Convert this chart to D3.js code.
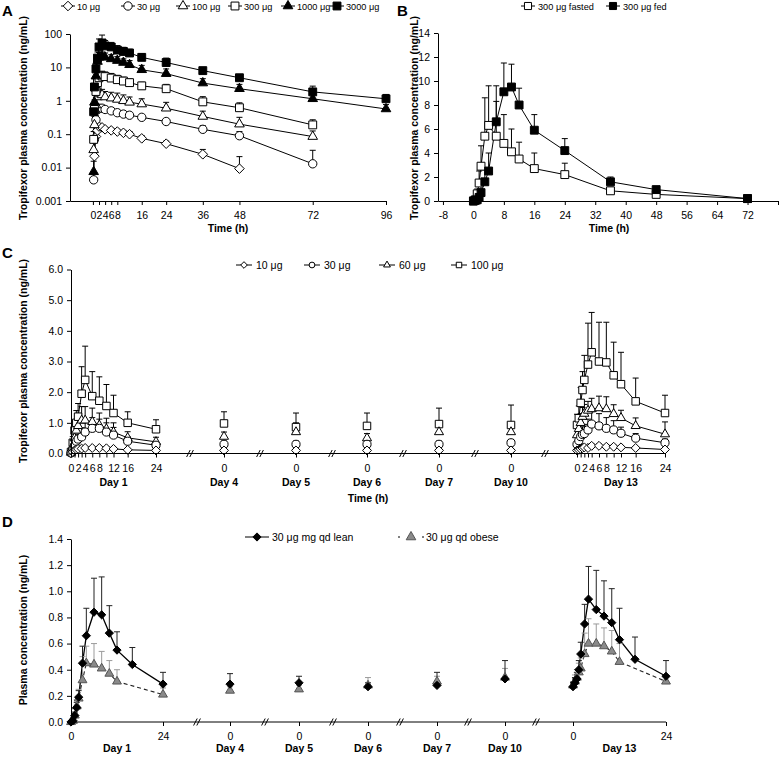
<!DOCTYPE html>
<html><head><meta charset="utf-8">
<script src="https://cdn.jsdelivr.net/npm/d3@7"></script>
<style>
body{margin:0;background:#fff}
svg{display:block}
text{font-family:"Liberation Sans",Arial,Helvetica,sans-serif;fill:#000}
</style>
</head><body>
<svg id="chart" width="780" height="758"></svg>
<script>
// ================= DATA =================
// ---- Panel A (single ascending dose, log scale) ----
const aTimes = [0.25,0.5,1,1.5,2,3,4,6,8,10,12,16,24,36,48,72,96];
const aDoses = ["10 μg","30 μg","100 μg","300 μg","1000 μg","3000 μg"];
const a10    = [null,0.022,0.085,0.13,0.17,0.16,0.14,0.13,0.12,0.11,0.1,0.075,0.052,0.025,0.0093,null,null];
const a10Err = [null,0.01,0.03,0.03,0.03,0.02,0.02,0.02,0.02,0.02,0.02,0.015,0.01,0.01,0.012,null,null];
const a30    = [0.0043,0.07,0.27,0.54,0.6,0.6,0.55,0.5,0.44,0.4,0.37,0.32,0.24,0.14,0.09,0.013,null];
const a30Err = [0.003,0.05,0.1,0.15,0.15,0.12,0.1,0.1,0.08,0.07,0.07,0.06,0.05,0.04,0.03,0.02,null];
const a100    = [0.034,0.19,0.75,1.3,1.6,1.5,1.3,1.2,1.1,1.0,0.9,0.8,0.6,0.34,0.2,0.085,null];
const a100Err = [0.03,0.15,0.5,0.7,0.8,0.7,0.6,0.6,0.6,0.5,0.4,0.35,0.3,0.15,0.12,0.04,null];
const a300    = [0.07,0.55,1.9,3.5,4.9,5.5,5.3,4.8,4.3,3.9,3.5,2.8,2.3,0.93,0.62,0.19,null];
const a300Err = [0.05,0.5,1.5,2,2.3,2.2,2,1.8,1.5,1.2,1,0.8,0.8,0.4,0.25,0.08,null];
const a1000    = [0.0075,0.9,5.5,15,20,21,20,18,16,14,12,8.5,6.5,3.4,2.3,1.15,0.57];
const a1000Err = [0.008,1,4,8,8,8,7,6,5,4,4,3,2.5,1.2,0.8,0.6,0.2];
const a3000    = [0.47,2.6,9,19,41,54,44,41,33,30,27,20,14,8,4.9,1.85,1.15];
const a3000Err = [0.3,2,5,10,30,39,20,15,12,10,8,6,5,1.5,1.2,0.9,0.4];
const aXTicks = [0,2,4,6,8,16,24,36,48,72,96];
const aYTicks = [0.001,0.01,0.1,1,10,100];
const aYTickLabels = ["0.001","0.01","0.1","1","10","100"];

// ---- Panel B (food effect) ----
const bTimes = [0,0.5,1,1.5,2,3,4,6,8,10,12,16,24,36,48,72];
const bNames = ["300 μg fasted","300 μg fed"];
const bFasted    = [0,0.1,0.6,1.5,2.9,5.4,6.3,5.4,4.8,4.1,3.5,2.7,2.2,0.85,0.55,0.2];
const bFastedErr = [0,0.1,0.4,1.0,1.7,3.2,3.3,2.9,2.4,1.9,1.4,1.3,0.95,0.3,0.2,0.05];
const bFed    = [0,0.05,0.1,0.3,0.7,1.6,2.5,6.6,9.1,9.5,8.0,5.9,4.2,1.6,0.95,0.2];
const bFedErr = [0,0.05,0.1,0.3,0.8,1.0,1.5,3.0,2.4,1.9,1.4,1.3,1.0,0.4,0.15,0.05];
const bXTicks = [-8,0,8,16,24,32,40,48,56,64,72,80];
const bXTickLabels = ["-8","0","8","16","24","32","40","48","56","64","72",""];
const bYTicks = [0,2,4,6,8,10,12,14];

// ---- Panel C (multiple dose) ----
const cHours = [0,0.5,1,1.5,2,3,4,6,8,10,12,16,24];
const cDayLabels = ["Day 1","Day 4","Day 5","Day 6","Day 7","Day 10","Day 13"];
const cDoses = ["10 μg","30 μg","60 μg","100 μg"];
const c10Day1     = [0.01,0.05,0.1,0.13,0.15,0.16,0.18,0.18,0.18,0.17,0.15,0.12,0.1];
const c10Day1Err  = [0,0.02,0.03,0.03,0.04,0.04,0.05,0.05,0.05,0.05,0.04,0.03,0.03];
const c10Trough   = [0.1,0.1,0.1,0.1,0.1];
const c10TroughErr= [0.03,0.03,0.03,0.03,0.03];
const c10Day13    = [0.1,0.12,0.15,0.18,0.2,0.18,0.25,0.25,0.22,0.22,0.2,0.18,0.13];
const c10Day13Err = [0.03,0.03,0.04,0.05,0.05,0.05,0.06,0.06,0.05,0.05,0.05,0.04,0.03];
const c30Day1     = [0.02,0.1,0.25,0.4,0.47,0.54,0.7,0.82,0.82,0.7,0.6,0.4,0.27];
const c30Day1Err  = [0.01,0.05,0.1,0.15,0.2,0.3,0.3,0.35,0.3,0.3,0.25,0.15,0.1];
const c30Trough   = [0.3,0.3,0.3,0.3,0.35];
const c30TroughErr= [0.1,0.1,0.1,0.1,0.1];
const c30Day13    = [0.3,0.42,0.55,0.62,0.65,0.77,0.96,0.9,0.82,0.77,0.66,0.5,0.35];
const c30Day13Err = [0.1,0.15,0.2,0.25,0.3,0.35,0.4,0.4,0.35,0.3,0.2,0.15,0.12];
const c60Day1     = [0.03,0.25,0.5,0.75,0.9,1.08,1.08,1.03,0.92,0.8,0.7,0.51,0.38];
const c60Day1Err  = [0.01,0.1,0.2,0.25,0.3,0.45,0.45,0.45,0.4,0.35,0.3,0.2,0.15];
const c60Trough   = [0.55,0.7,0.5,0.7,0.7];
const c60TroughErr= [0.15,0.3,0.15,0.2,0.2];
const c60Day13    = [0.6,0.8,1.0,1.2,1.3,1.4,1.45,1.48,1.45,1.29,1.16,0.9,0.63];
const c60Day13Err = [0.25,0.3,0.3,0.3,0.3,0.3,0.35,0.39,0.4,0.3,0.25,0.26,0.4];
const c100Day1     = [0.05,0.35,0.75,1.0,1.2,1.95,2.4,1.87,1.72,1.55,1.32,1.0,0.79];
const c100Day1Err  = [0.02,0.2,0.3,0.4,0.43,0.88,1.1,0.8,0.78,0.7,0.58,0.36,0.31];
const c100Trough   = [0.98,0.86,0.9,0.96,0.93];
const c100TroughErr= [0.38,0.46,0.42,0.52,0.65];
const c100Day13    = [0.93,1.15,1.65,2.07,2.4,2.9,3.3,3.0,2.97,2.55,2.26,1.7,1.32];
const c100Day13Err = [0.35,0.4,0.5,0.6,0.8,1.35,1.3,1.28,1.31,1.08,1.04,0.76,0.58];
const cYTicks = [0,1,2,3,4,5,6];
const cHourTicks = [0,1,2,3,4,6,8,10,12,16,24];
const cHourLabels = [0,2,4,6,8,12,16,24];

// ---- Panel D (lean vs obese) ----
const dHours = [0,0.5,1,1.5,2,3,4,6,8,10,12,16,24];
const dNames = ["30 μg mg qd lean","30 μg qd obese"];
const dLeanDay1     = [0,0.01,0.05,0.11,0.19,0.45,0.66,0.84,0.82,0.68,0.55,0.44,0.29];
const dLeanDay1Err  = [0,0.01,0.02,0.04,0.05,0.13,0.21,0.26,0.29,0.21,0.14,0.13,0.09];
const dLeanTrough   = [0.29,0.30,0.27,0.28,0.33];
const dLeanTroughErr= [0.08,0.05,0.03,0.1,0.14];
const dLeanDay13    = [0.27,0.3,0.33,0.4,0.52,0.75,0.94,0.86,0.81,0.76,0.63,0.48,0.35];
const dLeanDay13Err = [0.03,0.04,0.05,0.07,0.09,0.15,0.25,0.3,0.27,0.26,0.24,0.17,0.12];
const dObeseDay1    = [0,0.01,0.05,0.12,0.18,0.32,0.45,0.44,0.41,0.37,0.31,null,0.21];
const dObeseDay1Err = [0,0.01,0.03,0.05,0.07,0.18,0.13,0.16,0.13,0.1,0.09,null,0.05];
const dObeseTrough    = [0.24,0.25,0.28,0.31,0.34];
const dObeseTroughErr = [0.03,0.03,0.06,0.04,0.07];
const dObeseDay13    = [0.28,0.31,0.34,0.38,0.41,0.52,0.6,0.6,0.58,0.54,0.46,null,0.31];
const dObeseDay13Err = [0.03,0.05,0.06,0.07,0.08,0.16,0.19,0.15,0.14,0.16,0.14,null,0.03];
const dYTicks = [0,0.2,0.4,0.6,0.8,1.0,1.2,1.4];
const dHourTicks = [0,24];

// ================= HELPERS =================
const svg = d3.select("#chart");
const FONT = '"Liberation Sans",Arial,sans-serif';
const symDiamond = {draw(ctx,size){const r=Math.sqrt(size/2);ctx.moveTo(0,-r);ctx.lineTo(r,0);ctx.lineTo(0,r);ctx.lineTo(-r,0);ctx.closePath();}};
const SHAPES = {diamond:symDiamond, circle:d3.symbolCircle, triangle:d3.symbolTriangle, square:d3.symbolSquare};

function pts(times, vals, errs){
  return times.map((t,i)=>({t, v:vals[i], e:errs?errs[i]:null})).filter(d=>d.v!=null);
}
function drawLine(g, p, sx, sy, st){
  if(p.length<2) return;
  g.append("path").datum(p)
    .attr("d", d3.line().x(d=>sx(d.t)).y(d=>sy(d.v)))
    .attr("fill","none").attr("stroke", st.lineColor||"#000")
    .attr("stroke-width", st.lw||1).attr("stroke-dasharray", st.dash||null);
}
function drawErr(g, p, sx, sy, st){
  const cw = st.cap||3;
  g.selectAll(null).data(p.filter(d=>d.e>0)).join("path")
    .attr("d", d=>{const x=sx(d.t), y0=sy(d.v), y1=sy(d.v+d.e); return `M${x},${y0}V${y1}M${x-cw},${y1}H${x+cw}`;})
    .attr("fill","none").attr("stroke", st.errColor||"#000").attr("stroke-width",1);
}
function drawMarks(g, p, sx, sy, st){
  g.selectAll(null).data(p).join("path")
    .attr("transform", d=>`translate(${sx(d.t)},${sy(d.v)})`)
    .attr("d", d3.symbol(SHAPES[st.shape], st.size))
    .attr("fill", st.fill).attr("stroke", st.stroke||"#000").attr("stroke-width",1);
}
function styleAxis(g, fs){
  g.attr("font-family", FONT).attr("font-size", fs);
  g.selectAll("text").attr("fill","#000");
  g.selectAll("line,path").attr("stroke","#000");
}
function yLabel(x, cy, txt){
  svg.append("text").attr("transform",`translate(${x},${cy}) rotate(-90)`)
    .attr("text-anchor","middle").attr("font-weight","bold").attr("font-size",10.5).text(txt);
}
function text(x,y,txt,o={}){
  return svg.append("text").attr("x",x).attr("y",y).attr("font-size",o.fs||10.5)
    .attr("font-weight",o.bold?"bold":null).attr("text-anchor",o.anchor||"start").text(txt);
}
function legendItem(x, y, txt, st, o){
  const g = svg.append("g");
  g.append("line").attr("x1",x-o.half).attr("x2",x+o.half).attr("y1",y).attr("y2",y)
    .attr("stroke","#000").attr("stroke-width",1).attr("stroke-dasharray",o.dash||null);
  g.append("path").attr("transform",`translate(${x},${y})`).attr("d",d3.symbol(SHAPES[st.shape], o.size||st.size))
    .attr("fill",st.fill).attr("stroke",st.stroke||"#000");
  text(x+o.gap, y+o.dy, txt, {fs:o.fs});
}

// ================= PANEL A =================
(function(){
  const x = d3.scaleLinear().domain([-7.5,96]).range([70,386]);
  const y = d3.scaleLog().domain([0.001,100]).range([201,34]);
  const ser = [
    {v:a10,e:a10Err,shape:"diamond",fill:"#fff",size:46},
    {v:a30,e:a30Err,shape:"circle",fill:"#fff",size:55},
    {v:a100,e:a100Err,shape:"triangle",fill:"#fff",size:40},
    {v:a300,e:a300Err,shape:"square",fill:"#fff",size:62},
    {v:a1000,e:a1000Err,shape:"triangle",fill:"#000",size:40},
    {v:a3000,e:a3000Err,shape:"square",fill:"#000",size:62}
  ];
  const g = svg.append("g");
  ser.forEach(s=>{const p=pts(aTimes,s.v,s.e); drawLine(g,p,x,y,s); drawErr(g,p,x,y,s);});
  ser.forEach(s=>drawMarks(g,pts(aTimes,s.v,s.e),x,y,s));
  const ya = svg.append("g").attr("transform","translate(70,0)")
    .call(d3.axisLeft(y).tickValues(aYTicks).tickFormat((d,i)=>aYTickLabels[i]).tickSize(4).tickPadding(4).tickSizeOuter(0));
  styleAxis(ya,10.5);
  const xa = svg.append("g").attr("transform","translate(0,201)")
    .call(d3.axisBottom(x).tickValues(aXTicks).tickFormat(d3.format("d")).tickSize(4).tickPadding(7).tickSizeOuter(0));
  styleAxis(xa,10.5);
  text(228,232,"Time (h)",{bold:true,anchor:"middle"});
  yLabel(27,118,"Tropifexor plasma concentration (ng/mL)");
  text(2,16,"A",{bold:true,fs:15});
  const lx = [68,128,183,235,288,337];
  ser.forEach((s,i)=>legendItem(lx[i],6,aDoses[i],s,{half:7,gap:9,dy:3.5,fs:9.2}));
})();

// ================= PANEL B =================
(function(){
  const x = d3.scaleLinear().domain([-9.3,80]).range([438,778]);
  const y = d3.scaleLinear().domain([0,14]).range([201,33]);
  const ser = [
    {v:bFasted,e:bFastedErr,shape:"square",fill:"#fff",size:62},
    {v:bFed,e:bFedErr,shape:"square",fill:"#000",size:62}
  ];
  const g = svg.append("g");
  ser.forEach(s=>{const p=pts(bTimes,s.v,s.e); drawLine(g,p,x,y,s); drawErr(g,p,x,y,s);});
  ser.forEach(s=>drawMarks(g,pts(bTimes,s.v,s.e),x,y,s));
  const ya = svg.append("g").attr("transform","translate(438,0)")
    .call(d3.axisLeft(y).tickValues(bYTicks).tickFormat(d3.format("d")).tickSize(4).tickPadding(4).tickSizeOuter(0));
  styleAxis(ya,10.5);
  const xa = svg.append("g").attr("transform","translate(0,201)")
    .call(d3.axisBottom(x).tickValues(bXTicks).tickFormat((d,i)=>bXTickLabels[i]).tickSize(4).tickPadding(7).tickSizeOuter(0));
  styleAxis(xa,10.5);
  text(609,232,"Time (h)",{bold:true,anchor:"middle"});
  yLabel(418,118,"Tropifexor plasma concentration (ng/mL)");
  text(397,16,"B",{bold:true,fs:15});
  const lx=[528,613];
  ser.forEach((s,i)=>legendItem(lx[i],6,bNames[i],s,{half:7,gap:10,dy:3.5,fs:9.2,size:50}));
})();

// ============ segmented axis panels (C, D) ============
function segmentedPanel(cfg){
  const y = d3.scaleLinear().domain(cfg.yDomain).range([cfg.y0,cfg.y1]);
  const sDay1 = d3.scaleLinear().domain([0,24]).range(cfg.day1);
  const sDay13 = d3.scaleLinear().domain([0,24]).range(cfg.day13);
  const sTr = cfg.troughs.map(c=>d3.scaleLinear().domain([-1,1]).range([c-1,c+1]));
  const g = svg.append("g");
  const groups = cfg.series.map(s=>{
    const segs = [{sx:sDay1,p:pts(cfg.hours,s.day1,s.day1Err),line:true}];
    sTr.forEach((sx,i)=>segs.push({sx,p:pts([0],[s.tr[i]],[s.trErr[i]]),line:false}));
    segs.push({sx:sDay13,p:pts(cfg.hours,s.day13,s.day13Err),line:true});
    return segs;
  });
  cfg.series.forEach((s,k)=>groups[k].forEach(sg=>{ if(sg.line) drawLine(g,sg.p,sg.sx,y,s); }));
  cfg.series.forEach((s,k)=>groups[k].forEach(sg=>drawErr(g,sg.p,sg.sx,y,s)));
  cfg.series.forEach((s,k)=>groups[k].forEach(sg=>drawMarks(g,sg.p,sg.sx,y,s)));
  const ya = svg.append("g").attr("transform",`translate(${cfg.axisX},0)`)
    .call(d3.axisLeft(y).tickValues(cfg.yTicks).tickFormat(d3.format(".1f")).tickSize(4).tickPadding(4).tickSizeOuter(0));
  styleAxis(ya,10.5);
  svg.append("line").attr("x1",cfg.axisX).attr("x2",cfg.day13[1]).attr("y1",cfg.y0).attr("y2",cfg.y0).attr("stroke","#000");
  const axisSeg = (sx, ticks, labels)=>{
    const a = svg.append("g").attr("transform",`translate(0,${cfg.y0})`)
      .call(d3.axisBottom(sx).tickValues(ticks).tickFormat(d=>labels.includes(d)?d:"").tickSize(4).tickPadding(7));
    a.select(".domain").remove();
    styleAxis(a,10.5);
  };
  axisSeg(sDay1, cfg.hourTicks, cfg.hourLabels);
  sTr.forEach(sx=>axisSeg(sx,[0],[0]));
  axisSeg(sDay13, cfg.hourTicks, cfg.hourLabels);
  cfg.breaks.forEach(bx=>{
    [-1.6,1.6].forEach(o=>svg.append("line").attr("x1",bx+o-1.8).attr("x2",bx+o+1.8)
      .attr("y1",cfg.y0+3.5).attr("y2",cfg.y0-3.5).attr("stroke","#000").attr("stroke-width",1));
  });
  const centers = [sDay1(12), ...cfg.troughs, sDay13(12)];
  cfg.dayLabels.forEach((d,i)=>text(centers[i], cfg.dayY, d, {bold:true,anchor:"middle"}));
}

// ================= PANEL C =================
segmentedPanel({
  yDomain:[0,6], y0:453.5, y1:269.5, axisX:71, yTicks:cYTicks,
  day1:[71,156], troughs:[224,296,367,439,511], day13:[577,665],
  breaks:[190,260,332,403,475,545], hours:cHours, hourTicks:cHourTicks, hourLabels:cHourLabels,
  dayLabels:cDayLabels, dayY:486,
  series:[
    {day1:c100Day1,day1Err:c100Day1Err,tr:c100Trough,trErr:c100TroughErr,day13:c100Day13,day13Err:c100Day13Err,shape:"square",fill:"#fff",size:56},
    {day1:c60Day1,day1Err:c60Day1Err,tr:c60Trough,trErr:c60TroughErr,day13:c60Day13,day13Err:c60Day13Err,shape:"triangle",fill:"#fff",size:36},
    {day1:c30Day1,day1Err:c30Day1Err,tr:c30Trough,trErr:c30TroughErr,day13:c30Day13,day13Err:c30Day13Err,shape:"circle",fill:"#fff",size:52},
    {day1:c10Day1,day1Err:c10Day1Err,tr:c10Trough,trErr:c10TroughErr,day13:c10Day13,day13Err:c10Day13Err,shape:"diamond",fill:"#fff",size:40}
  ]
});
text(368,502,"Time (h)",{bold:true,anchor:"middle"});
yLabel(27,361,"Tropifexor plasma concentration (ng/mL)");
text(2,258,"C",{bold:true,fs:15});
(function(){
  const st = [{shape:"diamond",fill:"#fff"},{shape:"circle",fill:"#fff"},{shape:"triangle",fill:"#fff"},{shape:"square",fill:"#fff"}];
  const sizes=[22,26,20,30];
  const lx=[244,312,387,459];
  cDoses.forEach((d,i)=>legendItem(lx[i],265,d,st[i],{half:8,gap:12,dy:4,fs:10.5,size:sizes[i]}));
})();

// ================= PANEL D =================
segmentedPanel({
  yDomain:[0,1.4], y0:722, y1:539, axisX:71, yTicks:dYTicks,
  day1:[71,163], troughs:[230,299,368,437,505], day13:[573,666],
  breaks:[197,265,333,400,468,536], hours:dHours, hourTicks:dHourTicks, hourLabels:dHourTicks,
  dayLabels:cDayLabels, dayY:752,
  series:[
    {day1:dObeseDay1,day1Err:dObeseDay1Err,tr:dObeseTrough,trErr:dObeseTroughErr,day13:dObeseDay13,day13Err:dObeseDay13Err,
     shape:"triangle",fill:"#8a8a8a",stroke:"#555",size:34,dash:"4,3",lineColor:"#222",errColor:"#9b9b9b",lw:1.1},
    {day1:dLeanDay1,day1Err:dLeanDay1Err,tr:dLeanTrough,trErr:dLeanTroughErr,day13:dLeanDay13,day13Err:dLeanDay13Err,
     shape:"diamond",fill:"#000",size:34,lw:1.3,errColor:"#222"}
  ]
});
yLabel(27,630,"Plasma concentration (ng/mL)");
text(2,527,"D",{bold:true,fs:15});
legendItem(257,537,dNames[0],{shape:"diamond",fill:"#000"},{half:12,gap:15,dy:4,fs:10.5,size:34});
(function(){
  const g = svg.append("g");
  g.append("line").attr("x1",398).attr("x2",424).attr("y1",537).attr("y2",537)
    .attr("stroke","#000").attr("stroke-dasharray","2,22");
  g.append("path").attr("transform","translate(411,537)").attr("d",d3.symbol(d3.symbolTriangle,40))
    .attr("fill","#8a8a8a").attr("stroke","#555");
  text(426,541,dNames[1],{fs:10.5});
})();
</script>
</body></html>
